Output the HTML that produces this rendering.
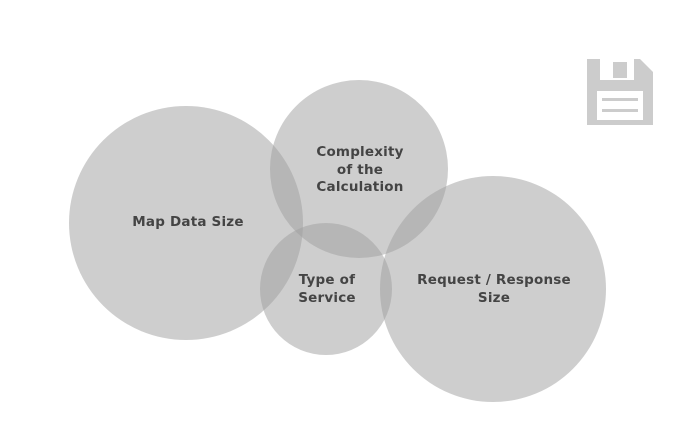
<!DOCTYPE html>
<html><head><style>
body{margin:0;background:#fff;width:673px;height:422px;overflow:hidden}
text{font-family:"DejaVu Sans",sans-serif;font-weight:bold;font-size:13.5px;letter-spacing:0.2px;fill:#444;text-anchor:middle}
</style></head><body>
<svg width="673" height="422" viewBox="0 0 673 422">
<g fill="rgba(159,159,159,0.51)">
<circle cx="186" cy="223" r="117"/>
<circle cx="359" cy="169" r="89"/>
<circle cx="326" cy="289" r="66"/>
<circle cx="493" cy="289" r="113"/>
</g>
<text x="188" y="226">Map Data Size</text>
<text x="360" y="156">Complexity</text>
<text x="360" y="174">of the</text>
<text x="360" y="191">Calculation</text>
<text x="327" y="284">Type of</text>
<text x="327" y="302">Service</text>
<text x="494" y="284">Request / Response</text>
<text x="494" y="302">Size</text>
<g>
<path d="M587 59 H640 L653 72 V125 H587 Z" fill="#cccccc"/>
<rect x="600" y="59" width="34" height="21" fill="#fff"/>
<rect x="613" y="62" width="14" height="16" fill="#cccccc"/>
<rect x="597" y="91" width="46" height="29" fill="#fff"/>
<rect x="602" y="98" width="36" height="3" fill="#cccccc"/>
<rect x="602" y="109" width="36" height="3" fill="#cccccc"/>
</g>
</svg>
</body></html>
